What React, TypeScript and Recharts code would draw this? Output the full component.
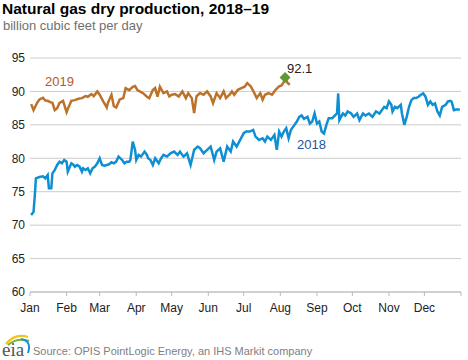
import { LineChart, Line, XAxis, YAxis, CartesianGrid, ReferenceDot } from 'recharts';

// day of year (0 = Jan 1) and billion cubic feet per day
const days2018 = [
  1, 3, 4, 5, 8, 11, 13, 15, 16, 18, 19, 21, 23, 25, 27, 29, 31, 32, 35, 37, 38, 40, 42, 44, 45, 47, 49, 51, 53, 55,
  57, 59, 61, 63, 65, 67, 69, 71, 73, 75, 78, 80, 82, 84, 85, 87, 89, 90, 92, 94, 97, 99, 100, 102, 104, 106, 109, 111,
  113, 116, 119, 122, 125, 127, 130, 133, 136, 139, 142, 144, 147, 150, 153, 156, 158, 161, 164, 167, 170, 172, 175,
  178, 181, 183, 186, 189, 191, 194, 197, 199, 201, 204, 207, 209, 211, 213, 215, 217, 219, 221, 224, 226, 228, 230,
  232, 235, 237, 239, 241, 243, 245, 247, 249, 251, 253, 256, 257, 260, 261, 262, 265, 267, 269, 272, 274, 277, 279,
  282, 284, 287, 290, 293, 296, 298, 300, 302, 304, 306, 307, 309, 311, 314, 315, 317, 319, 321, 323, 325, 327, 329,
  331, 333, 335, 337, 339, 341, 343, 345, 347, 349, 352, 354, 356, 357, 359, 361, 364,
];
const prod2018 = [
  71.5, 72.0, 74.25, 77.0, 77.2, 77.3, 77.0, 77.5, 75.5, 75.5, 77.75, 78.25, 79.0, 79.5, 79.25, 79.75, 79.5, 78.0,
  79.25, 79.0, 78.75, 79.0, 78.75, 78.0, 78.5, 78.25, 78.5, 77.75, 78.5, 78.75, 79.25, 80.0, 79.0, 78.9, 79.0, 79.1,
  79.4, 79.25, 79.5, 80.25, 79.75, 79.25, 79.5, 79.5, 79.75, 82.5, 81.25, 79.75, 80.5, 80.25, 81.0, 80.5, 80.0, 79.75,
  79.0, 80.0, 79.25, 80.0, 80.5, 80.25, 80.75, 81.0, 80.5, 81.0, 80.25, 80.75, 79.0, 81.25, 81.75, 81.5, 80.75, 81.25,
  81.75, 79.75, 81.0, 81.5, 79.5, 81.75, 81.0, 82.5, 81.75, 82.75, 83.75, 84.0, 84.0, 84.25, 83.25, 82.75, 83.0, 82.5,
  83.25, 82.75, 83.5, 81.25, 84.0, 83.25, 84.0, 84.5, 83.0, 84.25, 85.0, 85.5, 86.2, 86.4, 85.9, 86.2, 85.2, 85.5, 86.7,
  85.2, 85.5, 84.0, 83.7, 85.0, 86.0, 86.0, 86.2, 86.7, 89.7, 85.7, 86.7, 86.4, 87.0, 86.7, 86.2, 86.7, 85.7, 86.7,
  86.4, 86.7, 86.2, 87.0, 86.7, 87.2, 87.7, 87.5, 88.5, 88.0, 87.0, 87.7, 87.5, 88.0, 86.7, 85.0, 86.2, 87.7, 88.7,
  89.0, 89.0, 89.2, 89.5, 89.7, 89.2, 88.0, 88.5, 88.0, 88.2, 87.0, 86.4, 87.7, 88.0, 88.5, 88.6, 88.5, 87.2, 87.3, 87.3,
];

const days2019 = [
  1, 3, 6, 8, 11, 13, 15, 17, 19, 21, 23, 25, 28, 31, 33, 35, 38, 41, 44, 47, 49, 52, 54, 57, 59, 62, 65, 66, 69, 71,
  73, 76, 79, 81, 84, 87, 89, 91, 93, 96, 99, 101, 104, 106, 108, 110, 113, 116, 118, 120, 123, 126, 129, 132, 134,
  137, 139, 141, 144, 147, 150, 153, 155, 158, 161, 164, 166, 169, 171, 173, 176, 179, 182, 184, 187, 190, 192, 195,
  197, 199, 202, 205, 208, 211, 213, 215, 216, 218, 220,
];
const prod2019 = [
  88.1, 87.2, 88.3, 88.8, 89.05, 88.65, 88.6, 88.4, 88.3, 87.2, 87.5, 88.3, 88.6, 86.9, 87.8, 88.6, 88.7, 88.9, 89.0,
  89.3, 89.2, 89.6, 89.3, 90.0, 89.5, 88.5, 87.6, 88.3, 89.5, 87.8, 87.6, 88.8, 89.0, 90.5, 90.2, 90.7, 90.8, 90.2,
  90.0, 89.7, 89.2, 89.0, 90.2, 90.5, 89.2, 90.7, 89.75, 90.0, 89.25, 89.5, 89.6, 89.25, 90.0, 89.0, 89.75, 89.0, 86.75,
  89.25, 89.75, 89.5, 90.0, 89.25, 88.25, 89.75, 89.0, 90.0, 89.0, 89.5, 90.0, 89.5, 90.25, 90.5, 90.75, 91.25, 90.75,
  89.75, 89.0, 89.75, 88.75, 89.5, 89.75, 89.5, 90.25, 90.75, 90.9, 91.4, 92.1, 91.3, 91.0,
];

const latest2019 = { day: 216, value: 92.1 };

const monthStarts = [0, 31, 59, 90, 120, 151, 181, 212, 243, 273, 304, 334, 365];
const monthLabels = ['Jan', 'Feb', 'Mar', 'Apr', 'May', 'Jun', 'Jul', 'Aug', 'Sep', 'Oct', 'Nov', 'Dec', ''];
const yTicks = [60, 65, 70, 75, 80, 85, 90, 95];

const BLUE = '#0f8fd3';
const BROWN = '#bd722a';

// one row per day, with whichever series has a value there
const rowMap = new Map<number, { day: number; y2018?: number; y2019?: number }>();
days2018.forEach((d, i) => rowMap.set(d, { ...(rowMap.get(d) || { day: d }), y2018: prod2018[i] }));
days2019.forEach((d, i) => rowMap.set(d, { ...(rowMap.get(d) || { day: d }), y2019: prod2019[i] }));
const data = Array.from(rowMap.values()).sort((a, b) => a.day - b.day);

const Diamond = (props: any) => {
  const { cx, cy } = props;
  return (
    <g>
      <path d={`M${cx} ${cy - 5.5} L${cx + 5.5} ${cy} L${cx} ${cy + 5.5} L${cx - 5.5} ${cy} Z`} fill="#5b9a32" />
      <text x={cx + 2} y={cy - 4.5} fontSize={13} fill="#222" fontFamily='"Liberation Sans", Arial, sans-serif'>
        {latest2019.value}
      </text>
    </g>
  );
};

const EiaLogo = () => (
  <svg width={32} height={28} style={{ position: 'absolute', left: 1, top: 331 }}>
    <path d="M5 13 Q 14 2 27 6" stroke="#f2c318" strokeWidth={2.2} fill="none" />
    <path d="M7 14 Q 16 6 28 10" stroke="#6db33f" strokeWidth={2} fill="none" />
    <path d="M20 8 Q 31 10 27 22" stroke="#1b8fd0" strokeWidth={2} fill="none" />
    <text x={1} y={25} fontSize={19} fill="#555" fontFamily='"Liberation Serif", "DejaVu Serif", serif'>
      eia
    </text>
  </svg>
);

export default function App() {
  return (
    <div
      style={{
        position: 'absolute',
        left: 0,
        top: 0,
        width: 468,
        height: 360,
        background: '#fff',
        fontFamily: '"Liberation Sans", Arial, sans-serif',
      }}
    >
      <div style={{ position: 'absolute', left: 2, top: 0.5, fontSize: 15.5, fontWeight: 'bold', lineHeight: 1, color: '#000', whiteSpace: 'nowrap' }}>
        Natural gas dry production, 2018–19
      </div>
      <div style={{ position: 'absolute', left: 3, top: 18.5, fontSize: 13, lineHeight: 1, color: '#707070', whiteSpace: 'nowrap' }}>
        billion cubic feet per day
      </div>

      <div style={{ position: 'absolute', left: 0, top: 0 }}>
        <LineChart width={468} height={330} data={data} margin={{ top: 58, right: 7, bottom: 0, left: 0 }}>
          <CartesianGrid vertical={false} stroke="#cccccc" />
          <XAxis
            dataKey="day"
            type="number"
            domain={[0, 365]}
            ticks={monthStarts}
            interval={0}
            height={38}
            tickSize={4}
            tickMargin={7}
            stroke="#bbbbbb"
            tick={{ fill: '#222', fontSize: 12 }}
            tickFormatter={(v: number) => monthLabels[monthStarts.indexOf(v)] ?? ''}
          />
          <YAxis
            type="number"
            domain={[60, 95]}
            ticks={yTicks}
            width={30}
            axisLine={false}
            tickLine={false}
            tickSize={0}
            tickMargin={5}
            tick={{ fill: '#222', fontSize: 12 }}
          />
          <Line
            type="linear"
            dataKey="y2018"
            stroke={BLUE}
            strokeWidth={2.5}
            dot={false}
            connectNulls
            isAnimationActive={false}
          />
          <Line
            type="linear"
            dataKey="y2019"
            stroke={BROWN}
            strokeWidth={2.5}
            dot={false}
            connectNulls
            isAnimationActive={false}
          />
          <ReferenceDot x={latest2019.day} y={latest2019.value} r={5} shape={Diamond} />
        </LineChart>
      </div>

      <div style={{ position: 'absolute', left: 45, top: 74.5, fontSize: 13, lineHeight: 1, color: '#b5591c' }}>2019</div>
      <div style={{ position: 'absolute', left: 297, top: 137.5, fontSize: 13, lineHeight: 1, color: '#1d55a0' }}>2018</div>

      <EiaLogo />
      <div style={{ position: 'absolute', left: 33, top: 345.5, fontSize: 11, lineHeight: 1, color: '#808080', whiteSpace: 'nowrap' }}>
        Source: OPIS PointLogic Energy, an IHS Markit company
      </div>
    </div>
  );
}
